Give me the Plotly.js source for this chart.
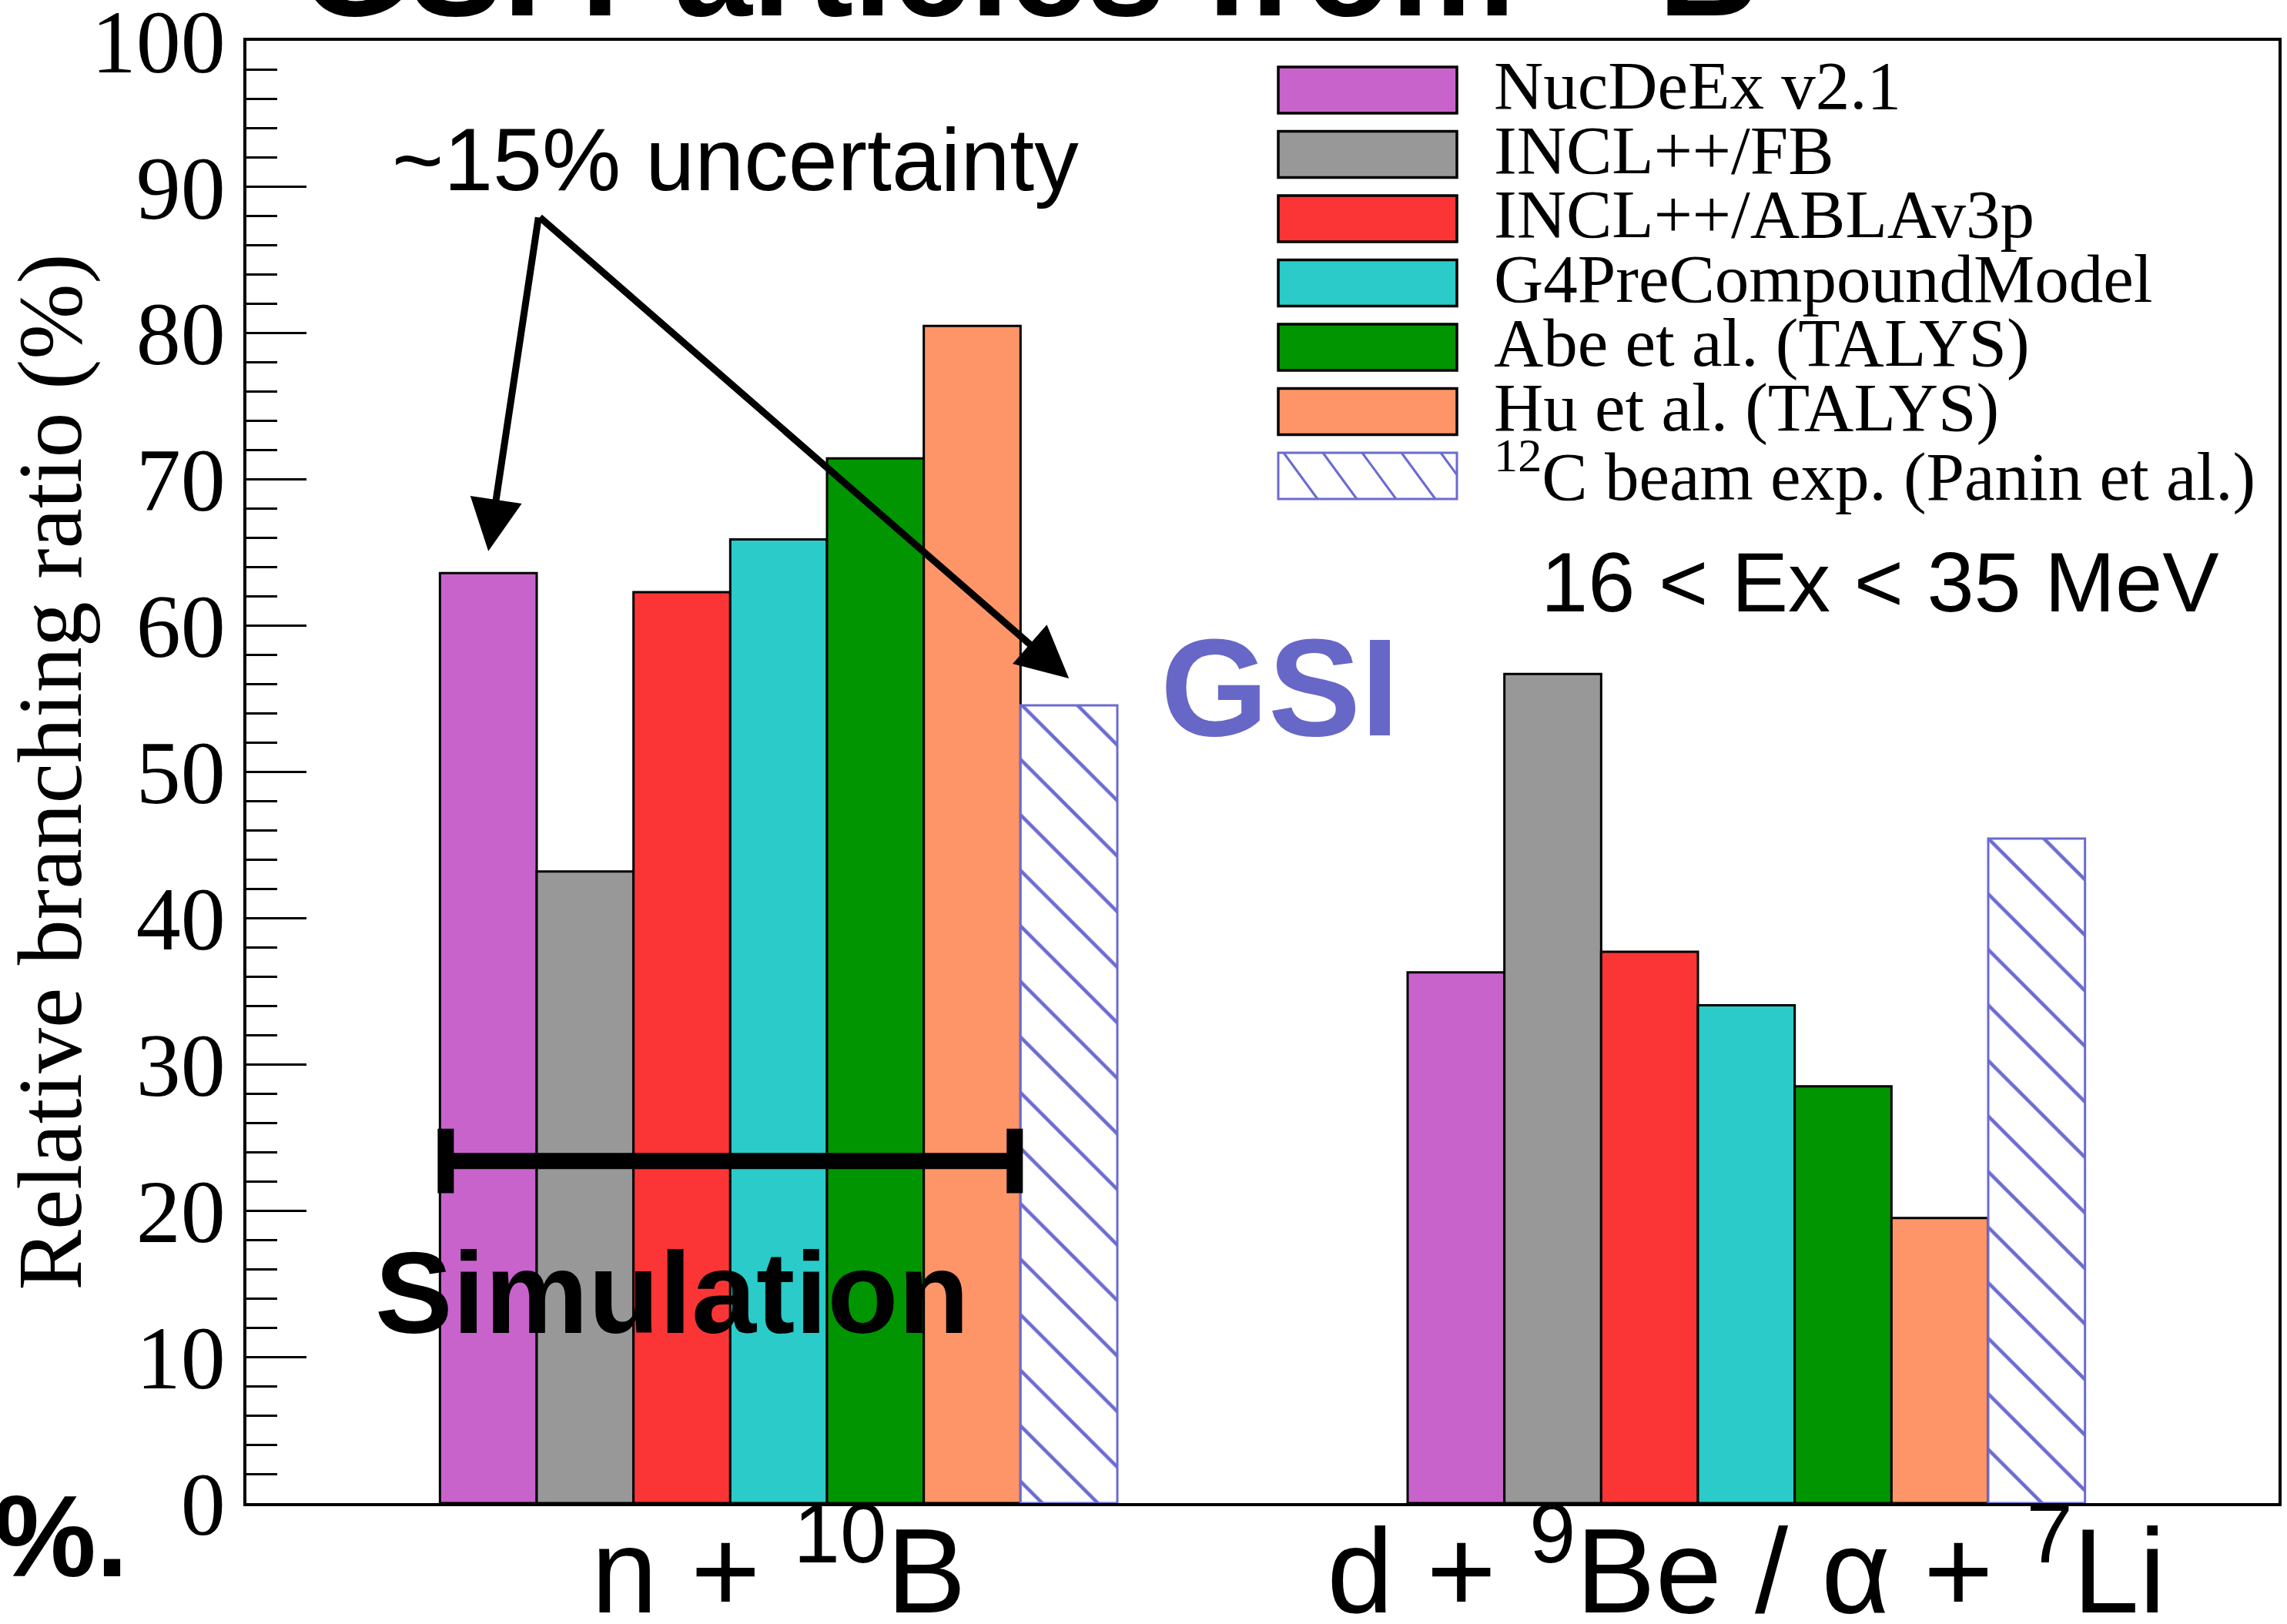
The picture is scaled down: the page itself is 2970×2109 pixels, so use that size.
<!DOCTYPE html>
<html>
<head>
<meta charset="utf-8">
<script src="https://cdn.plot.ly/plotly-3.0.1.min.js"></script>
<style>html,body{margin:0;padding:0;background:#fff;}#chart{width:2970px;height:2109px;}</style>
</head>
<body>
<div id="chart"></div>
<script>
// ---- data ----
const categories = ['n + <sup>10</sup>B', 'd + <sup>9</sup>Be / α + <sup>7</sup>Li'];
const seriesNames = ['NucDeEx v2.1', 'INCL++/FB', 'INCL++/ABLAv3p', 'G4PreCompoundModel',
  'Abe et al. (TALYS)', 'Hu et al. (TALYS)', '<sup>12</sup>C beam exp. (Panin et al.)'];
const nucdeex   = [63.6, 36.3];
const inclFB    = [43.2, 56.7];
const inclABLA  = [62.3, 37.7];
const g4pre     = [65.9, 34.05];
const abeTalys  = [71.45, 28.5];
const huTalys   = [80.5, 19.5];
const paninExp  = [54.55, 45.45];
const yTickVals = [0, 10, 20, 30, 40, 50, 60, 70, 80, 90, 100];

// ---- styles ----
const colors = ['#c963cc', '#989898', '#fb3535', '#2acbc9', '#019501', '#fe9568'];
const hatchColor = '#6b6bd0';
const serif = 'Liberation Serif, Times New Roman, serif';
const sans = 'Liberation Sans, Arial, Helvetica, sans-serif';

const values = [nucdeex, inclFB, inclABLA, g4pre, abeTalys, huTalys, paninExp];

const traces = values.map((v, i) => {
  const t = {type: 'bar', x: categories, y: v, name: seriesNames[i], showlegend: false,
    hoverinfo: 'skip'};
  if (i < 6) {
    t.marker = {color: colors[i], line: {color: 'black', width: 3}};
  } else {
    t.marker = {color: 'white', line: {color: hatchColor, width: 3},
      pattern: {shape: '\\', fgcolor: hatchColor, bgcolor: 'white', size: 51, solidity: 0.09}};
  }
  return t;
});

// pixel -> paper helpers (plot frame)
const L = 320, R = 2959, T = 53, B = 1952;
const px2x = X => (X - L) / (R - L);
const px2y = Y => (B - Y) / (B - T);

const shapes = [];
const annotations = [];

// ---- legend (drawn manually) ----
const legX0 = 1660, legX1 = 1892, legTop = 87, legPitch = 83.5, legBoxH = 60, legTextX = 1938;
seriesNames.forEach((nm, i) => {
  const top = legTop + i * legPitch, bot = top + legBoxH;
  if (i < 6) {
    shapes.push({type: 'rect', xref: 'paper', yref: 'paper',
      x0: px2x(legX0), x1: px2x(legX1), y0: px2y(bot), y1: px2y(top),
      fillcolor: colors[i], line: {color: 'black', width: 3.5}});
  } else {
    shapes.push({type: 'rect', xref: 'paper', yref: 'paper',
      x0: px2x(legX0), x1: px2x(legX1), y0: px2y(bot), y1: px2y(top),
      fillcolor: 'white', line: {color: hatchColor, width: 3}});
    const d = 44, s = 51, h = legBoxH;
    for (let t0 = legX0 - d; t0 < legX1; t0 += s) {
      let xa = t0, ya = top, xb = t0 + d, yb = bot;
      if (xa < legX0) { ya = top + (legX0 - t0) / d * h; xa = legX0; }
      if (xb > legX1) { yb = top + (legX1 - t0) / d * h; xb = legX1; }
      if (xb <= xa) continue;
      shapes.push({type: 'line', xref: 'paper', yref: 'paper',
        x0: px2x(xa), x1: px2x(xb), y0: px2y(ya), y1: px2y(yb),
        line: {color: hatchColor, width: 3}});
    }
  }
  annotations.push({xref: 'paper', yref: 'paper', x: px2x(legTextX), y: px2y(top + legBoxH / 2 - 6),
    xanchor: 'left', yanchor: 'middle', showarrow: false, text: nm,
    font: {family: serif, size: 89, color: 'black'}});
});

// ---- "Simulation" bracket (category coords) ----
const brY = 23.4, brX0 = -0.344, brX1 = 0.244;
shapes.push({type: 'line', xref: 'x', yref: 'y', x0: brX0, x1: brX1, y0: brY, y1: brY,
  line: {color: 'black', width: 21}});
[brX0, brX1].forEach(xx => shapes.push({type: 'line', xref: 'x', yref: 'y', x0: xx, x1: xx,
  y0: 21.2, y1: 25.6, line: {color: 'black', width: 21}}));

// ---- text annotations ----
annotations.push({xref: 'x', yref: 'y', x: -0.11, y: 14.4, showarrow: false, text: 'Simulation',
  font: {family: sans, size: 151, color: 'black', weight: 'bold'}});
annotations.push({xref: 'x', yref: 'y', x: -0.045, y: 91.9, showarrow: false, text: '~15% uncertainty',
  font: {family: sans, size: 115, color: 'black'}});
annotations.push({xref: 'x', yref: 'y', x: 0.518, y: 55.8, showarrow: false, text: 'GSI',
  font: {family: sans, size: 180, color: '#6767c8', weight: 'bold'}});
annotations.push({xref: 'x', yref: 'y', x: 1.138, y: 63.0, showarrow: false, text: '16 &lt; Ex &lt; 35 MeV',
  font: {family: sans, size: 110, color: 'black'}});

// arrows
const tailX = -0.248, tailY = 88.0;
[[-0.30, 65.1], [0.30, 56.4]].forEach(([hx, hy]) => annotations.push({
  xref: 'x', yref: 'y', axref: 'x', ayref: 'y', x: hx, y: hy, ax: tailX, ay: tailY,
  text: '', showarrow: true, arrowhead: 2, arrowsize: 1.5, arrowwidth: 9, arrowcolor: 'black', standoff: 0
}));

// cut-off slide texts
annotations.push({xref: 'paper', yref: 'paper', x: px2x(388), y: px2y(-56), xanchor: 'left', yanchor: 'middle',
  showarrow: false, text: 'GSI Particles from <sup>11</sup>B',
  font: {family: sans, size: 182, color: 'black', weight: 'bold'}});
annotations.push({xref: 'paper', yref: 'paper', x: px2x(168), y: px2y(1995), xanchor: 'right', yanchor: 'middle',
  showarrow: false, text: '5%.',
  font: {family: sans, size: 150, color: 'black', weight: 'bold'}});

const layout = {
  width: 2970, height: 2109,
  margin: {l: L, r: 2970 - R, t: T, b: 2109 - B, pad: 0},
  paper_bgcolor: 'white', plot_bgcolor: 'white',
  barmode: 'group', bargap: 0.3, bargroupgap: 0,
  showlegend: false,
  xaxis: {type: 'category', range: [-0.55, 1.55], showline: true, linewidth: 4, linecolor: 'black',
    mirror: true, ticks: '', showgrid: false, zeroline: false, automargin: false,
    ticklabelstandoff: -48, ticklabeloverflow: 'allow',
    tickfont: {family: sans, size: 155, color: 'black'}},
  yaxis: {range: [0, 100], showline: true, linewidth: 4, linecolor: 'black', mirror: true,
    tickmode: 'array', tickvals: yTickVals, ticktext: yTickVals.map(String),
    ticks: 'inside', ticklen: 78, tickwidth: 3, tickcolor: 'black', ticklabeloverflow: 'allow',
    minor: {ticks: 'inside', ticklen: 40, dtick: 2, tick0: 0, tickwidth: 3, tickcolor: 'black', showgrid: false},
    showgrid: false, zeroline: false, automargin: false,
    tickfont: {family: serif, size: 116, color: 'black'},
    title: {text: 'Relative branching ratio (%)', font: {family: serif, size: 118, color: 'black'}, standoff: 4}},
  shapes: shapes,
  annotations: annotations
};

Plotly.newPlot('chart', traces, layout, {displayModeBar: false, staticPlot: true});
</script>
</body>
</html>
